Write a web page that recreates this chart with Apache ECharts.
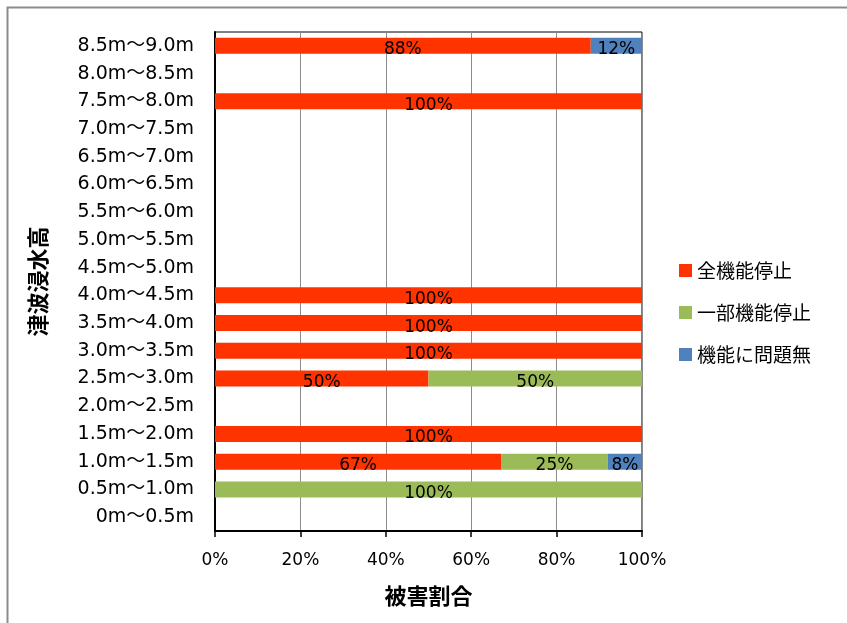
<!DOCTYPE html>
<html>
<head>
<meta charset="utf-8">
<script src="https://cdn.jsdelivr.net/npm/echarts@6/dist/echarts.min.js"></script>
<style>
  html, body { margin: 0; padding: 0; background: #fff; }
  #chart { width: 847px; height: 623px; }
</style>
</head>
<body>
<div id="chart"></div>
<script>
// Inundation height bands, bottom to top
const heightBands = [
  '0m～0.5m', '0.5m～1.0m', '1.0m～1.5m', '1.5m～2.0m', '2.0m～2.5m', '2.5m～3.0m',
  '3.0m～3.5m', '3.5m～4.0m', '4.0m～4.5m', '4.5m～5.0m', '5.0m～5.5m', '5.5m～6.0m',
  '6.0m～6.5m', '6.5m～7.0m', '7.0m～7.5m', '7.5m～8.0m', '8.0m～8.5m', '8.5m～9.0m'
];
// Share of facilities per damage level (%)
const fullStop    = [null, null, 67, 100, null, 50, 100, 100, 100, null, null, null, null, null, null, 100, null, 88];
const partialStop = [null, 100, 25, null, null, 50, null, null, null, null, null, null, null, null, null, null, null, null];
const noProblem   = [null, null, 8, null, null, null, null, null, null, null, null, null, null, null, null, null, null, 12];

const seriesNames = ['全機能停止', '一部機能停止', '機能に問題無'];
const seriesColors = ['#FF3300', '#9BBB59', '#4F81BD'];
const xTicks = [0, 20, 40, 60, 80, 100];

const LATIN = '"DejaVu Sans", "Noto Sans CJK JP", sans-serif';
const CJK = '"Noto Sans CJK JP", "Noto Sans", sans-serif';

const chart = echarts.init(document.getElementById('chart'), null, { renderer: 'canvas' });

function makeSeries(name, data, color) {
  return {
    name: name,
    type: 'bar',
    stack: 'total',
    data: data,
    barWidth: 16,
    itemStyle: { color: color },
    label: {
      show: true,
      position: 'inside',
      color: '#000',
      fontFamily: LATIN,
      fontSize: 17,
      offset: [0, 4],
      formatter: p => (p.value ? p.value + '%' : '')
    }
  };
}

chart.setOption({
  animation: false,
  textStyle: { fontFamily: CJK },
  graphic: [{
    type: 'rect',
    shape: { x: 7.5, y: 7.5, width: 900, height: 700 },
    style: { fill: 'none', stroke: '#8c8c8c', lineWidth: 2 },
    silent: true,
    z: -1
  }],
  grid: {
    left: 215, right: 205, top: 32, bottom: 92,
    show: true, borderColor: '#000', borderWidth: 1, backgroundColor: 'transparent'
  },
  legend: {
    orient: 'vertical',
    left: 674, top: 256,
    itemWidth: 13, itemHeight: 13,
    itemGap: 23,
    icon: 'rect',
    textStyle: { fontFamily: CJK, fontSize: 19, color: '#000' },
    data: seriesNames
  },
  xAxis: {
    type: 'value',
    min: 0, max: 100, interval: 20,
    name: '被害割合',
    nameLocation: 'middle',
    nameGap: 54,
    nameTextStyle: { fontFamily: CJK, fontSize: 22, fontWeight: 'bold', color: '#000' },
    axisLine: { show: true, lineStyle: { color: '#000', width: 2 } },
    axisTick: { show: true, length: 6, lineStyle: { color: '#000', width: 1.5 } },
    axisLabel: {
      margin: 21,
      fontFamily: LATIN, fontSize: 17, color: '#000',
      formatter: v => (xTicks.includes(v) ? v + '%' : '')
    },
    splitLine: { show: true, lineStyle: { color: '#8c8c8c', width: 1 } }
  },
  yAxis: {
    type: 'category',
    data: heightBands,
    name: '津波浸水高',
    nameLocation: 'middle',
    nameRotate: 90,
    nameGap: 166,
    nameTextStyle: { fontFamily: CJK, fontSize: 22, fontWeight: 'bold', color: '#000' },
    axisLine: { show: true, lineStyle: { color: '#000', width: 2 } },
    axisTick: { show: false },
    axisLabel: { margin: 21, fontFamily: LATIN, fontSize: 19, color: '#000', padding: [4, 0, 0, 0] },
    splitLine: { show: false }
  },
  series: [
    makeSeries(seriesNames[0], fullStop, seriesColors[0]),
    makeSeries(seriesNames[1], partialStop, seriesColors[1]),
    makeSeries(seriesNames[2], noProblem, seriesColors[2])
  ]
});
</script>
</body>
</html>
